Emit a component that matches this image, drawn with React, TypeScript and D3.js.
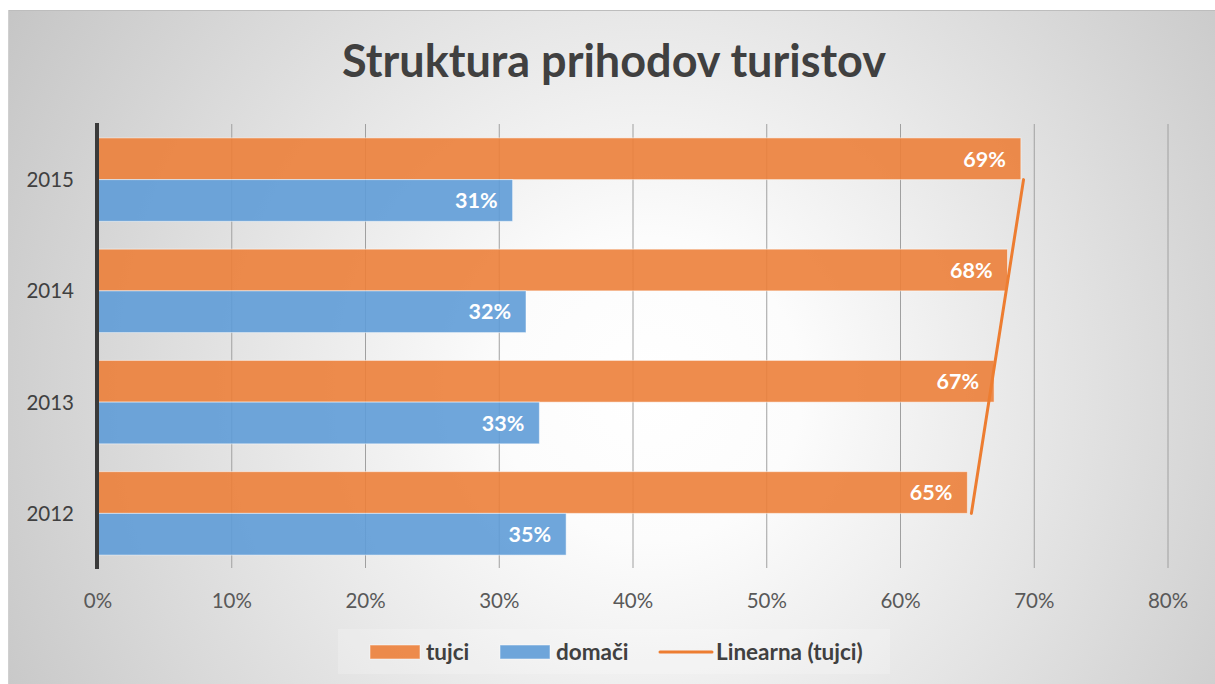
import React from "react";
import * as d3 from "d3";

const years = ["2015", "2014", "2013", "2012"];
const tujci = [69, 68, 67, 65];
const domaci = [31, 32, 33, 35];
const xTicks = [0, 10, 20, 30, 40, 50, 60, 70, 80];
const seriesNames = ["tujci", "domači", "Linearna (tujci)"];
const title = "Struktura prihodov turistov";

const W = 1215;
const H = 684;
const FONT = "Lato, 'Open Sans', sans-serif";
const ORANGE = "#EC7F3A";
const BLUE = "#5F9CD7";
const TREND = "#ED7D31";
const TEXT = "#404040";

export default function App() {
  const plot = { left: 98, right: 1168, top: 124, bottom: 569 };
  const x = d3.scaleLinear().domain([0, 80]).range([plot.left, plot.right]);
  const y = d3
    .scaleBand<string>()
    .domain(years)
    .range([plot.top, plot.bottom])
    .paddingInner(0.25)
    .paddingOuter(0.125);
  const sub = d3
    .scaleBand<string>()
    .domain(["tujci", "domaci"])
    .range([0, y.bandwidth()]);

  // linear trend on tujci, chronological order
  const chron = years
    .map((yr, i) => ({ yr, v: tujci[i] }))
    .slice()
    .reverse();
  const n = chron.length;
  const xs = chron.map((_, i) => i + 1);
  const mx = d3.mean(xs) as number;
  const my = d3.mean(chron, (d) => d.v) as number;
  const slope =
    d3.sum(xs.map((xi, i) => (xi - mx) * (chron[i].v - my))) /
    d3.sum(xs.map((xi) => (xi - mx) * (xi - mx)));
  const icpt = my - slope * mx;
  const trendPts: [number, number][] = chron.map((d, i) => [
    x(icpt + slope * (i + 1)),
    (y(d.yr) as number) + y.bandwidth() / 2,
  ]);
  const line = d3.line();

  const bw = sub.bandwidth();

  return (
    <svg
      width={W}
      height={H}
      style={{ position: "absolute", left: 0, top: 0, fontFamily: FONT }}
    >
      <defs>
        <radialGradient
          id="bg"
          gradientUnits="userSpaceOnUse"
          cx={650}
          cy={390}
          r={760}
        >
          <stop offset="0" stopColor="#ffffff" />
          <stop offset="0.2" stopColor="#fcfcfc" />
          <stop offset="1" stopColor="#c4c4c4" />
        </radialGradient>
      </defs>
      <rect x={0} y={0} width={W} height={H} fill="#ffffff" />
      <rect x={8} y={10} width={W - 8} height={H - 10} fill="url(#bg)" />
      <line x1={8} x2={W} y1={10.5} y2={10.5} stroke="#bdbdbd" strokeWidth={1} />
      <line x1={8.5} x2={8.5} y1={10} y2={H} stroke="#d0d0d0" strokeWidth={1} />

      <text
        x={614}
        y={77}
        textAnchor="middle"
        fontSize={45}
        fontWeight={700}
        fill={TEXT}
      >
        {title}
      </text>

      {/* gridlines */}
      {xTicks.slice(1).map((t) => (
        <line
          key={t}
          x1={x(t)}
          x2={x(t)}
          y1={plot.top}
          y2={plot.bottom - 1}
          stroke="#a0a0a0"
          strokeWidth={1}
        />
      ))}

      {/* bars */}
      {years.map((yr, i) => {
        const y0 = y(yr) as number;
        const yo = y0 + (sub("tujci") as number);
        const yb = y0 + (sub("domaci") as number);
        return (
          <g key={yr}>
            <rect
              x={x(0)}
              y={yo}
              width={x(tujci[i]) - x(0)}
              height={bw}
              fill={ORANGE}
              fillOpacity={0.9}
              stroke="#ffffff"
              strokeOpacity={0.5}
              strokeWidth={1}
            />
            <rect
              x={x(0)}
              y={yb}
              width={x(domaci[i]) - x(0)}
              height={bw}
              fill={BLUE}
              fillOpacity={0.9}
              stroke="#ffffff"
              strokeOpacity={0.5}
              strokeWidth={1}
            />
            <text
              x={x(tujci[i]) - 15}
              y={yo + bw / 2}
              dy="0.36em"
              textAnchor="end"
              fontSize={21.5}
              fontWeight={700}
              fill="#ffffff"
            >
              {tujci[i]}%
            </text>
            <text
              x={x(domaci[i]) - 15}
              y={yb + bw / 2}
              dy="0.36em"
              textAnchor="end"
              fontSize={21.5}
              fontWeight={700}
              fill="#ffffff"
            >
              {domaci[i]}%
            </text>
            <text
              x={74}
              y={y0 + y.bandwidth() / 2}
              dy="0.36em"
              textAnchor="end"
              fontSize={20.5}
              fill={TEXT}
            >
              {yr}
            </text>
          </g>
        );
      })}

      {/* trendline */}
      <path
        d={line([trendPts[0], trendPts[n - 1]]) as string}
        stroke={TREND}
        strokeWidth={3}
        strokeLinecap="round"
        fill="none"
      />

      {/* vertical axis line */}
      <line
        x1={x(0) - 1}
        x2={x(0) - 1}
        y1={plot.top - 1}
        y2={plot.bottom}
        stroke="#3a3a3a"
        strokeWidth={4}
      />

      {/* x tick labels */}
      {xTicks.map((t) => (
        <text
          key={t}
          x={x(t)}
          y={601}
          dy="0.36em"
          textAnchor="middle"
          fontSize={20.5}
          fill="#595959"
        >
          {t}%
        </text>
      ))}

      {/* legend */}
      <g>
        <rect x={338} y={629} width={552} height={45} fill="#ffffff" fillOpacity={0.2} />
        <rect x={370} y={645} width={50} height={14} fill={ORANGE} fillOpacity={0.9} stroke="#ffffff" strokeOpacity={0.5} />
        <text x={426} y={652} dy="0.36em" fontSize={22.5} fontWeight={700} fill={TEXT}>
          {seriesNames[0]}
        </text>
        <rect x={500} y={645} width={50} height={14} fill={BLUE} fillOpacity={0.9} stroke="#ffffff" strokeOpacity={0.5} />
        <text x={556} y={652} dy="0.36em" fontSize={22.5} fontWeight={700} fill={TEXT}>
          {seriesNames[1]}
        </text>
        <line x1={660} x2={712} y1={652} y2={652} stroke={TREND} strokeWidth={3} strokeLinecap="round" />
        <text x={716} y={652} dy="0.36em" fontSize={22.5} fontWeight={700} fill={TEXT}>
          {seriesNames[2]}
        </text>
      </g>
    </svg>
  );
}
